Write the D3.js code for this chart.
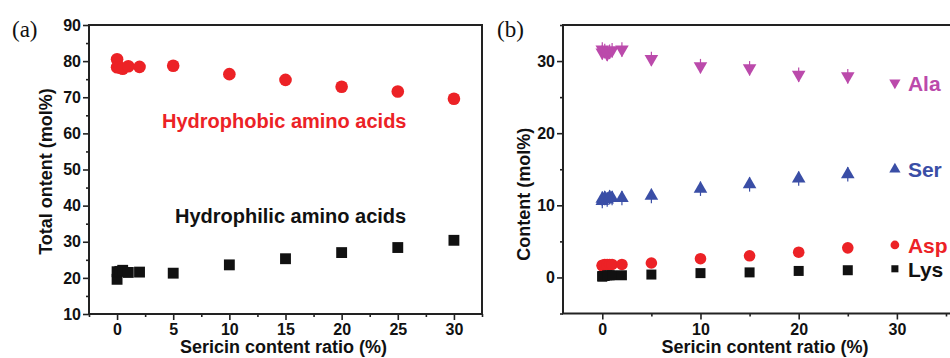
<!DOCTYPE html>
<html><head><meta charset="utf-8">
<script src="https://cdn.jsdelivr.net/npm/d3@7"></script>
<style>body{margin:0;background:#fff}svg{display:block}</style>
</head><body><svg id="c" width="950" height="358"></svg>
<script>
// ---- Panel (a) data ----
const ratioA = [0, 0, 0.25, 0.5, 1, 2, 5, 10, 15, 20, 25, 30];
const hydrophobic = [80.5, 78.3, 78.2, 77.9, 78.6, 78.4, 78.7, 76.4, 74.8, 72.9, 71.6, 69.6];
const hydrophilic = [19.6, 21.7, 21.8, 22.1, 21.5, 21.6, 21.3, 23.6, 25.3, 27.0, 28.4, 30.4];
const ticksAx = [0, 5, 10, 15, 20, 25, 30];
const ticksAy = [10, 20, 30, 40, 50, 60, 70, 80, 90];
// ---- Panel (b) data ----
const ratioB = [0, 0, 0.25, 0.5, 0.75, 1, 2, 5, 10, 15, 20, 25];
const ala = [31.6, 31.2, 31.4, 31.0, 31.3, 31.5, 31.6, 30.3, 29.3, 29.0, 28.1, 27.9];
const alaErr = [0.6, 0.6, 0.6, 0.6, 0.6, 0.6, 0.6, 0.6, 0.6, 0.6, 0.6, 0.6];
const ser = [10.6, 10.9, 11.0, 10.8, 11.1, 11.0, 11.0, 11.3, 12.3, 12.9, 13.7, 14.3];
const serErr = [0.6, 0.6, 0.6, 0.6, 0.6, 0.6, 0.6, 0.6, 0.6, 0.6, 0.6, 0.6];
const asp = [1.6, 1.7, 1.8, 1.8, 1.8, 1.8, 1.8, 2.0, 2.6, 3.0, 3.5, 4.1];
const lys = [0.1, 0.2, 0.2, 0.3, 0.3, 0.3, 0.3, 0.4, 0.6, 0.7, 0.9, 1.0];
const ticksBx = [0, 10, 20, 30];
const ticksBy = [0, 10, 20, 30];
const legendNames = ["Ala", "Ser", "Asp", "Lys"];
const legendY = [27.0, 15.0, 4.5, 1.2];
const legendX = 30;

const SANS = '"Liberation Sans",Arial,sans-serif', SERIF = '"Liberation Serif","Times New Roman",serif';
const RED = "#ec2226", BLACK = "#111", MAG = "#bb4aab", BLUE = "#3a4ea6";
const svg = d3.select("#c");
const sym = (type, size) => d3.symbol().type(type).size(size)();
const downTri = { draw(ctx, size) { const s = Math.sqrt(size*4/Math.sqrt(3)); const h = s*Math.sqrt(3)/2;
  ctx.moveTo(-s/2, -h/3); ctx.lineTo(s/2, -h/3); ctx.lineTo(0, 2*h/3); ctx.closePath(); } };
const upTri = { draw(ctx, size) { const s = Math.sqrt(size*4/Math.sqrt(3)); const h = s*Math.sqrt(3)/2;
  ctx.moveTo(-s/2, h/3); ctx.lineTo(s/2, h/3); ctx.lineTo(0, -2*h/3); ctx.closePath(); } };
const txt = (g, s, size, fill) => g.append("text").text(s).style("font-family", SANS)
  .style("font-weight", "bold").style("font-size", size + "px").attr("fill", fill);

function frame(g, x, y, xMajor, xMinor, yMajor, yMinor, L, R, T, B) {
  const ax = g.append("g").attr("transform", `translate(0,${B})`)
    .call(d3.axisBottom(x).tickValues(xMinor).tickSize(3).tickFormat(""));
  const ax2 = g.append("g").attr("transform", `translate(0,${B})`)
    .call(d3.axisBottom(x).tickValues(xMajor).tickSize(6).tickPadding(4));
  const ay = g.append("g").attr("transform", `translate(${L},0)`)
    .call(d3.axisLeft(y).tickValues(yMinor).tickSize(3).tickFormat(""));
  const ay2 = g.append("g").attr("transform", `translate(${L},0)`)
    .call(d3.axisLeft(y).tickValues(yMajor).tickSize(6).tickPadding(2));
  [ax, ax2, ay, ay2].forEach(a => { a.select(".domain").remove();
    a.selectAll("line").attr("stroke", "#222").attr("stroke-width", 1.6);
    a.selectAll("text").attr("fill", "#111").style("font-size", "16px")
      .style("font-family", SANS).style("font-weight", "bold"); });
  g.append("path").attr("d", `M${L},${T}H${R}V${B}H${L}Z`).attr("fill", "none")
    .attr("stroke", "#222").attr("stroke-width", 2);
}

// ---- Panel (a) ----
{
  const L = 89, R = 482, T = 25, B = 314;
  const x = d3.scaleLinear().domain([-2.5, 32.5]).range([L, R]);
  const y = d3.scaleLinear().domain([10, 90]).range([B, T]);
  const g = svg.append("g");
  frame(g, x, y, ticksAx, d3.range(-2.5, 33, 2.5).filter(v => !ticksAx.includes(v)),
        ticksAy, d3.range(15, 90, 10), L, R, T, B);
  g.append("g").selectAll("circle").data(ratioA).join("circle")
    .attr("cx", d => x(d)).attr("cy", (d, i) => y(hydrophobic[i])).attr("r", 6.3).attr("fill", RED);
  g.append("g").selectAll("path").data(ratioA).join("path")
    .attr("transform", (d, i) => `translate(${x(d)},${y(hydrophilic[i])})`)
    .attr("d", sym(d3.symbolSquare, 118)).attr("fill", BLACK);
  txt(g, "Hydrophobic amino acids", 20, RED).attr("x", 162).attr("y", 128);
  txt(g, "Hydrophilic amino acids", 20, "#111").attr("x", 175).attr("y", 223);
  txt(g, "Total ontent (mol%)", 18, "#111").attr("transform", `translate(52,${(T + B) / 2 + 2}) rotate(-90)`)
    .attr("text-anchor", "middle");
  txt(g, "Sericin content ratio (%)", 18, "#111").attr("x", (L + R) / 2 - 2).attr("y", 353)
    .attr("text-anchor", "middle");
  g.append("text").attr("x", 12).attr("y", 37).style("font-size", "23px").style("font-family", SERIF)
    .style("font-weight", "normal").attr("fill", "#111").text("(a)");
}

// ---- Panel (b) ----
{
  const L = 563, R = 1000, T = 25, B = 313.5;
  const x = d3.scaleLinear().domain([-4, 40.5]).range([L, R]);
  const y = d3.scaleLinear().domain([-5, 35]).range([B, T]);
  const g = svg.append("g");
  frame(g, x, y, ticksBx, [5, 15, 25, 35], ticksBy, [-5, 5, 15, 25, 35], L, R, T, B);
  const eb = (vals, errs, col) => g.append("g").selectAll("line").data(ratioB).join("line")
    .attr("x1", d => x(d)).attr("x2", d => x(d))
    .attr("y1", (d, i) => y(vals[i] + errs[i] + 0.4)).attr("y2", (d, i) => y(vals[i] - errs[i] - 0.4))
    .attr("stroke", col).attr("stroke-width", 1.2);
  eb(ala, alaErr, MAG); eb(ser, serErr, BLUE);
  g.append("g").selectAll("path").data(ratioB).join("path")
    .attr("transform", (d, i) => `translate(${x(d)},${y(ala[i])})`)
    .attr("d", d3.symbol().type(downTri).size(80)()).attr("fill", MAG);
  g.append("g").selectAll("path").data(ratioB).join("path")
    .attr("transform", (d, i) => `translate(${x(d)},${y(ser[i])})`)
    .attr("d", d3.symbol().type(upTri).size(80)()).attr("fill", BLUE);
  g.append("g").selectAll("circle").data(ratioB).join("circle")
    .attr("cx", d => x(d)).attr("cy", (d, i) => y(asp[i])).attr("r", 5.8).attr("fill", RED);
  g.append("g").selectAll("path").data(ratioB).join("path")
    .attr("transform", (d, i) => `translate(${x(d)},${y(lys[i])})`)
    .attr("d", sym(d3.symbolSquare, 100)).attr("fill", BLACK);
  const legCols = [MAG, BLUE, RED, BLACK];
  const legShapes = [d3.symbol().type(downTri).size(55)(), d3.symbol().type(upTri).size(55)(),
                     sym(d3.symbolCircle, 60), sym(d3.symbolSquare, 50)];
  legendNames.forEach((n, i) => {
    const lg = g.append("g").attr("transform", `translate(${x(legendX) - 2},${y(legendY[i])})`);
    lg.append("path").attr("d", legShapes[i]).attr("fill", legCols[i]);
    txt(lg, n, 21, legCols[i]).attr("x", 13).attr("y", 8);
  });
  txt(g, "Content (mol%)", 18, "#111").attr("transform", `translate(530,${(T + B) / 2 + 25}) rotate(-90)`)
    .attr("text-anchor", "middle");
  txt(g, "Sericin content ratio (%)", 18, "#111").attr("x", 765).attr("y", 353).attr("text-anchor", "middle");
  g.append("text").attr("x", 497).attr("y", 37).style("font-size", "23px").style("font-family", SERIF)
    .style("font-weight", "normal").attr("fill", "#111").text("(b)");
}
</script></body></html>
